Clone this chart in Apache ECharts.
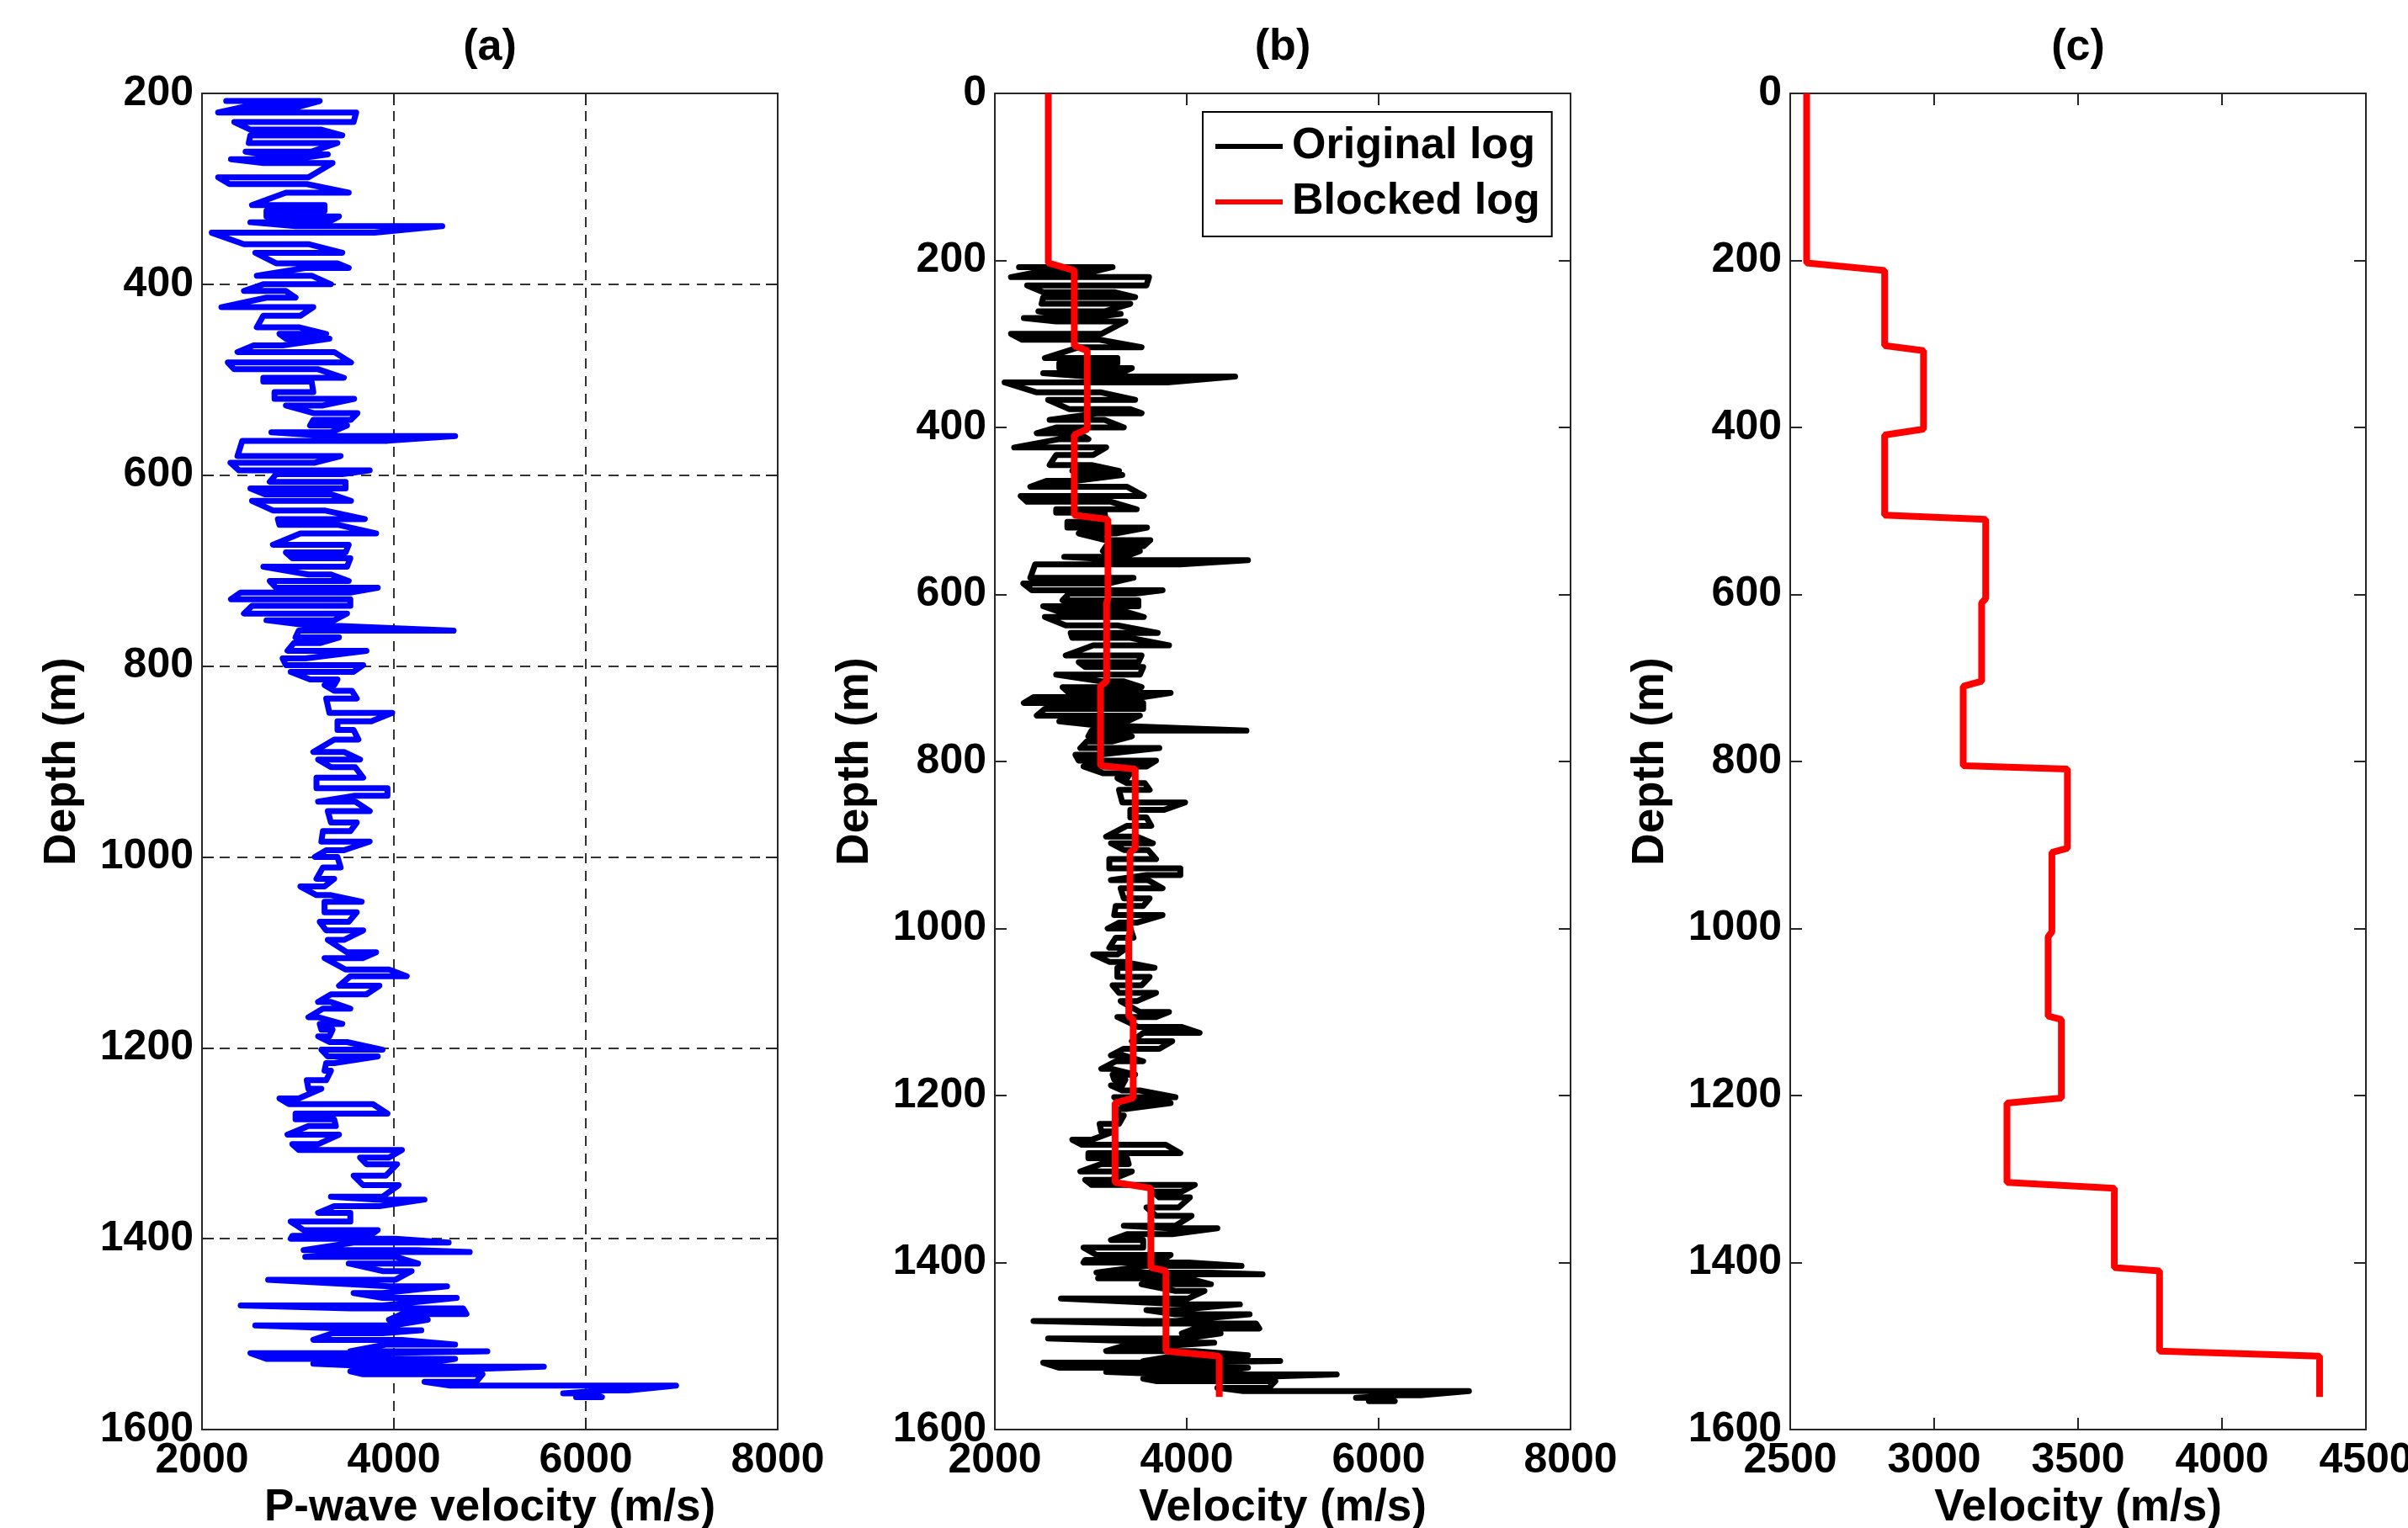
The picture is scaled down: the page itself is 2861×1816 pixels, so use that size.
<!DOCTYPE html>
<html><head><meta charset="utf-8">
<script src="https://cdn.jsdelivr.net/npm/echarts@6/dist/echarts.min.js"></script>
<style>html,body{margin:0;padding:0;background:#fff}#chart{width:2861px;height:1816px}</style>
</head><body><div id="chart"></div>
<script>
// Original P-wave log: depth (m), left and right extent of the trace at that depth (m/s)
const logDepth = [208,214,220,230,238,244,252,261,264,269,273,288,295,304,317,323,329,335,339,346,358,367,378,383,391,400,407,414,424,433,445,452,457,464,471,482,489,498,502,513,520,527,535,542,548,555,559,564,580,587,595,599,607,614,620,627,637,646,652,661,673,681,687,696,704,711,718,723,730,737,745,752,758,763,770,776,784,792,799,806,814,820,826,834,849,858,867,877,890,898,906,917,928,936,942,952,964,973,984,993,1000,1011,1023,1031,1040,1047,1058,1068,1077,1087,1100,1106,1118,1125,1135,1144,1152,1159,1168,1175,1181,1188,1194,1202,1209,1216,1224,1234,1243,1253,1259,1269,1275,1282,1291,1301,1307,1315,1322,1334,1344,1356,1359,1366,1373,1382,1391,1397,1400,1404,1412,1414,1419,1426,1434,1443,1450,1457,1462,1470,1473,1479,1485,1491,1496,1499,1506,1511,1518,1520,1526,1531,1534,1539,1542,1550,1554,1559,1562,1566];
const logMin = [2252,2437,2168,2336,2504,2504,2487,2454,2639,2302,2639,2168,2286,2874,2521,2672,2672,2504,2975,2101,2437,2555,2773,3076,2571,2639,2437,2672,2202,2639,2571,2807,2874,2538,2370,2269,2336,2639,2639,2756,2756,2874,3160,3160,3126,2723,3328,2420,2370,2296,2386,2773,2706,2504,2655,2521,2739,2790,2807,3025,2739,2874,2941,2639,3109,2706,2773,2403,2302,2521,2437,2672,3160,3008,2975,2958,2891,2840,2874,2924,3126,3277,3378,3294,3328,3412,3412,3378,3160,3210,3344,3193,3193,3580,3210,3311,3344,3260,3244,3294,3176,3260,3193,3025,3193,3277,3277,3227,3294,3311,3512,3277,3496,3546,3428,3344,3210,3260,3109,3227,3244,3210,3328,3244,3311,3294,3277,3092,3109,2807,2907,2975,2975,3109,2891,2941,3008,3647,3714,3580,3680,3344,3815,3378,3210,2924,3059,2941,2924,3580,3059,3748,3076,3529,3882,2689,3949,3580,3882,2403,3546,4084,3949,2555,3983,3361,3160,3916,3546,2504,2672,3160,3882,3546,3680,4319,4588,6201,5764,5899];
const logMax = [3227,3008,3607,3580,3244,3462,3412,3143,3311,2941,3361,3109,3092,3529,3277,3277,3428,3311,4504,3798,3109,3462,3412,3529,3143,3344,2874,2975,3160,3025,3008,3294,3328,2840,3378,3553,3210,3479,3143,3160,3586,3260,3620,3553,3512,3344,4638,3932,3445,3176,3748,3462,3496,3496,3344,3553,3277,3697,3412,3815,3529,3496,3546,3512,3344,3529,3832,3546,3546,3546,3512,3378,3445,4622,3428,3227,3714,3076,3680,3580,3412,3378,3563,3613,3983,3765,3580,3630,3479,3647,3597,3680,3933,3933,3597,3748,3613,3546,3748,3479,3412,3445,3378,3277,3344,3664,3613,3529,3680,3479,3815,3680,3949,4134,3849,3714,3344,3546,3210,3462,3361,3328,3512,3882,3832,3378,3344,3294,3244,3008,3781,3933,3378,3395,3428,3210,4084,3949,4033,3916,4050,3882,4319,3849,3546,3546,3832,3748,4017,4571,4235,4790,4017,4252,4185,4017,4554,3882,4655,3882,4722,4756,4353,3983,4286,3882,4084,4638,4974,3815,4638,4286,5563,4151,4924,4857,6941,6437,6067,6168];
// Blocked log (depth m, velocity m/s)
const blockDepth = [0,203,212,302,308,402,409,505,510,605,610,704,710,805,809,904,909,1004,1010,1105,1109,1203,1209,1304,1311,1406,1410,1506,1512,1561];
const blockVel = [2557,2557,2828,2828,2963,2963,2828,2828,3179,3179,3165,3165,3101,3101,3463,3463,3409,3409,3396,3396,3442,3442,3253,3253,3626,3626,3783,3783,4339,4339];
const panelTitles = ['(a)','(b)','(c)'];
const xNames = ['P-wave velocity (m/s)','Velocity (m/s)','Velocity (m/s)'];
const yName = 'Depth (m)';
const xRanges = [[2000,8000,2000],[2000,8000,2000],[2500,4500,500]];
const yRanges = [[200,1600,200],[0,1600,200],[0,1600,200]];
const legendNames = ['Original log','Blocked log'];

const origData = [];
logDepth.forEach((d,i)=>{
  if(i%2===0){origData.push([logMin[i],d]);origData.push([logMax[i],d]);}
  else{origData.push([logMax[i],d]);origData.push([logMin[i],d]);}
});
const blockData = blockDepth.map((d,i)=>[blockVel[i],d]);

const FONT='Liberation Sans';
const frameColor='#262626';
const gridPos=[240,1182,2127].map(l=>({left:l,top:111,width:684,height:1588,containLabel:false,outerBoundsMode:'none'}));
const plain = v => String(v);
const xAxes=[],yAxes=[];
gridPos.forEach((g,i)=>{
  const showGrid = i===0;
  const splitLine={show:showGrid,lineStyle:{color:'#333',width:2,type:[12,9]}};
  const tick={show:true,inside:true,length:14,lineStyle:{color:frameColor,width:2}};
  const line={show:true,onZero:false,lineStyle:{color:frameColor,width:2}};
  const lab={fontFamily:FONT,fontWeight:'bold',fontSize:50,color:'#000',formatter:plain};
  xAxes.push({type:'value',gridIndex:i,position:'bottom',min:xRanges[i][0],max:xRanges[i][1],interval:xRanges[i][2],
    axisLine:line,axisTick:tick,splitLine:splitLine,
    axisLabel:Object.assign({margin:12,showMinLabel:true,showMaxLabel:true},lab),
    name:xNames[i],nameLocation:'middle',nameGap:59,nameTextStyle:{fontFamily:FONT,fontWeight:'bold',fontSize:53,color:'#000'}});
  xAxes.push({type:'value',gridIndex:i,position:'top',min:xRanges[i][0],max:xRanges[i][1],interval:xRanges[i][2],
    axisLine:line,axisTick:tick,splitLine:{show:false},axisLabel:{show:false}});
  yAxes.push({type:'value',gridIndex:i,position:'left',inverse:true,min:yRanges[i][0],max:yRanges[i][1],interval:yRanges[i][2],
    axisLine:line,axisTick:tick,splitLine:splitLine,
    axisLabel:Object.assign({margin:10,showMinLabel:true,showMaxLabel:true},lab),
    name:yName,nameLocation:'middle',nameRotate:90,nameGap:139,nameTextStyle:{fontFamily:FONT,fontWeight:'bold',fontSize:53,color:'#000'}});
  yAxes.push({type:'value',gridIndex:i,position:'right',inverse:true,min:yRanges[i][0],max:yRanges[i][1],interval:yRanges[i][2],
    axisLine:line,axisTick:tick,splitLine:{show:false},axisLabel:{show:false}});
});

const chart=echarts.init(document.getElementById('chart'),null,{renderer:'canvas'});
chart.setOption({
  animation:false,
  backgroundColor:'#fff',
  grid:gridPos,
  xAxis:xAxes,
  yAxis:yAxes,
  legend:{data:legendNames,orient:'vertical',left:1429,top:133,padding:[15,14,15,15],itemWidth:80,itemHeight:6,itemGap:14,
    icon:'rect',selectedMode:false,backgroundColor:'#fff',borderColor:'#000',borderWidth:2,borderRadius:0,
    textStyle:{fontFamily:FONT,fontWeight:'bold',fontSize:52,color:'#000',padding:[0,0,0,6]}},
  graphic:panelTitles.map((t,i)=>({type:'text',x:gridPos[i].left+gridPos[i].width/2,y:57,
    style:{text:t,fill:'#000',font:'bold 52px "Liberation Sans"',textAlign:'center',textVerticalAlign:'middle'}})),
  series:[
    {type:'line',name:'P-wave',xAxisIndex:0,yAxisIndex:0,data:origData,showSymbol:false,symbol:'none',
      lineStyle:{color:'#0000ff',width:7,join:'round',cap:'round'},itemStyle:{color:'#0000ff'}},
    {type:'line',name:'Original log',xAxisIndex:2,yAxisIndex:2,data:origData,showSymbol:false,symbol:'none',
      lineStyle:{color:'#000',width:7,join:'round',cap:'round'},itemStyle:{color:'#000'}},
    {type:'line',name:'Blocked log',xAxisIndex:2,yAxisIndex:2,data:blockData,showSymbol:false,symbol:'none',
      lineStyle:{color:'#ff0000',width:8},itemStyle:{color:'#ff0000'}},
    {type:'line',name:'Blocked log c',xAxisIndex:4,yAxisIndex:4,data:blockData,showSymbol:false,symbol:'none',
      lineStyle:{color:'#ff0000',width:8},itemStyle:{color:'#ff0000'}}
  ]
});
</script></body></html>
